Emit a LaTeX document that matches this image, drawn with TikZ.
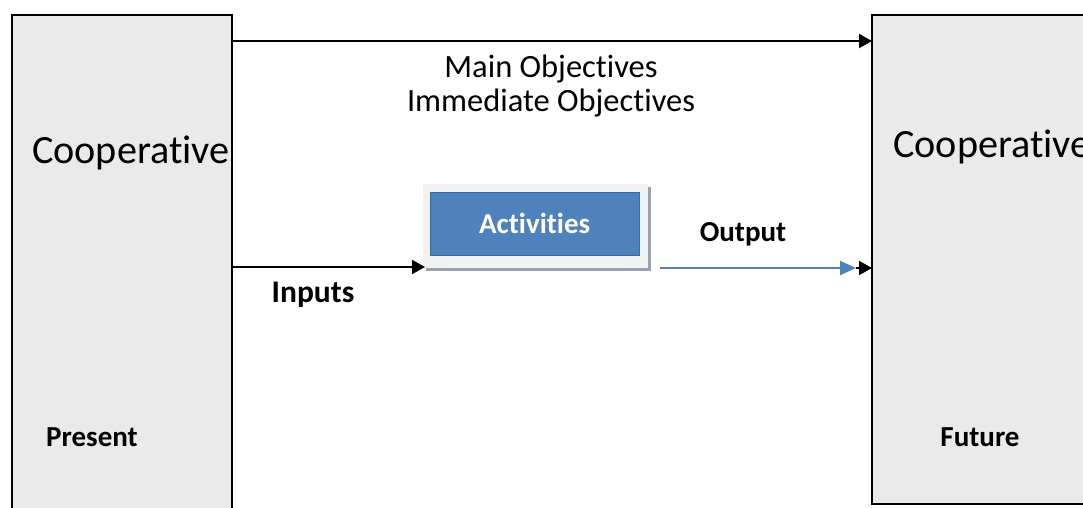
\documentclass[tikz,border=0pt]{standalone}
\usepackage{fontspec}
\setmainfont[Ligatures=NoCommon]{Carlito}
\usetikzlibrary{arrows.meta}
\definecolor{panelgray}{HTML}{EAEAEA}
\definecolor{actblue}{HTML}{4F81BD}
\definecolor{framegray}{HTML}{F2F2F2}
\definecolor{shadowgray}{HTML}{98A2B3}
\begin{document}
\begin{tikzpicture}[x=1pt,y=-1pt,
  panel/.style={draw=black,line width=2pt,fill=panelgray},
  bigtxt/.style={inner sep=0pt,font=\fontsize{40.2}{46}\selectfont},
  midtxt/.style={inner sep=0pt,font=\fontsize{32.5}{36}\selectfont,align=center},
  boldtxt/.style={inner sep=0pt,font=\fontsize{29}{34}\selectfont\bfseries},
  blackarrow/.style={draw=black,line width=2pt,-{Triangle[length=13pt,width=14pt]}},
  bluearrow/.style={draw=actblue,line width=2.5pt,-{Triangle[length=16pt,width=14pt]}}]
\useasboundingbox (0,0) rectangle (1083,507);
\begin{scope}
\clip (0,0) rectangle (1083,507);
% side panels
\draw[panel] (12,15) rectangle (232,530);
\draw[panel] (872,15) rectangle (1100,504);
\coordinate (presTop) at (232,41);
\coordinate (presMid) at (232,267);
\coordinate (futTop) at (872,41);
\coordinate (futMid) at (872,268);
\node[bigtxt,anchor=base west] (coopL) at (32,163) {Cooperative};
\node[bigtxt,anchor=base west] (coopR) at (893,157) {Cooperative};
\node[boldtxt,anchor=base] (present) at (92,446) {Present};
\node[boldtxt,anchor=base] (future) at (980,446) {Future};
\end{scope}
% objectives
\node[midtxt,anchor=base] (mainobj) at (551,77) {Main Objectives};
\node[midtxt,anchor=base] (immobj) at (551,111) {Immediate Objectives};
% activities box with frame and shadow
\fill[shadowgray] (426,187) rectangle (651,271);
\fill[framegray] (423,184) rectangle (648,268);
\node[fill=actblue,draw=actblue!80!black,line width=0.4pt,minimum width=209pt,minimum height=63pt,
  inner sep=0pt,anchor=north west,text=white,font=\fontsize{29}{34}\selectfont\bfseries] (act) at (430,192) {Activities};
\coordinate (actIn) at (425,267);
\coordinate (actOut) at (660,268);
\coordinate (tipEnd) at (856,268);
% connectors
\draw[blackarrow] (presTop) -- (futTop);
\draw[blackarrow] (presMid) -- (actIn);
\draw[bluearrow] (actOut) -- (tipEnd);
\draw[blackarrow] (tipEnd) -- (futMid);
% labels
\node[boldtxt,anchor=base,font=\fontsize{31.5}{36}\selectfont\bfseries] (inputs) at (313,302) {Inputs};
\node[boldtxt,anchor=base] (output) at (743,241) {Output};
\end{tikzpicture}
\end{document}
